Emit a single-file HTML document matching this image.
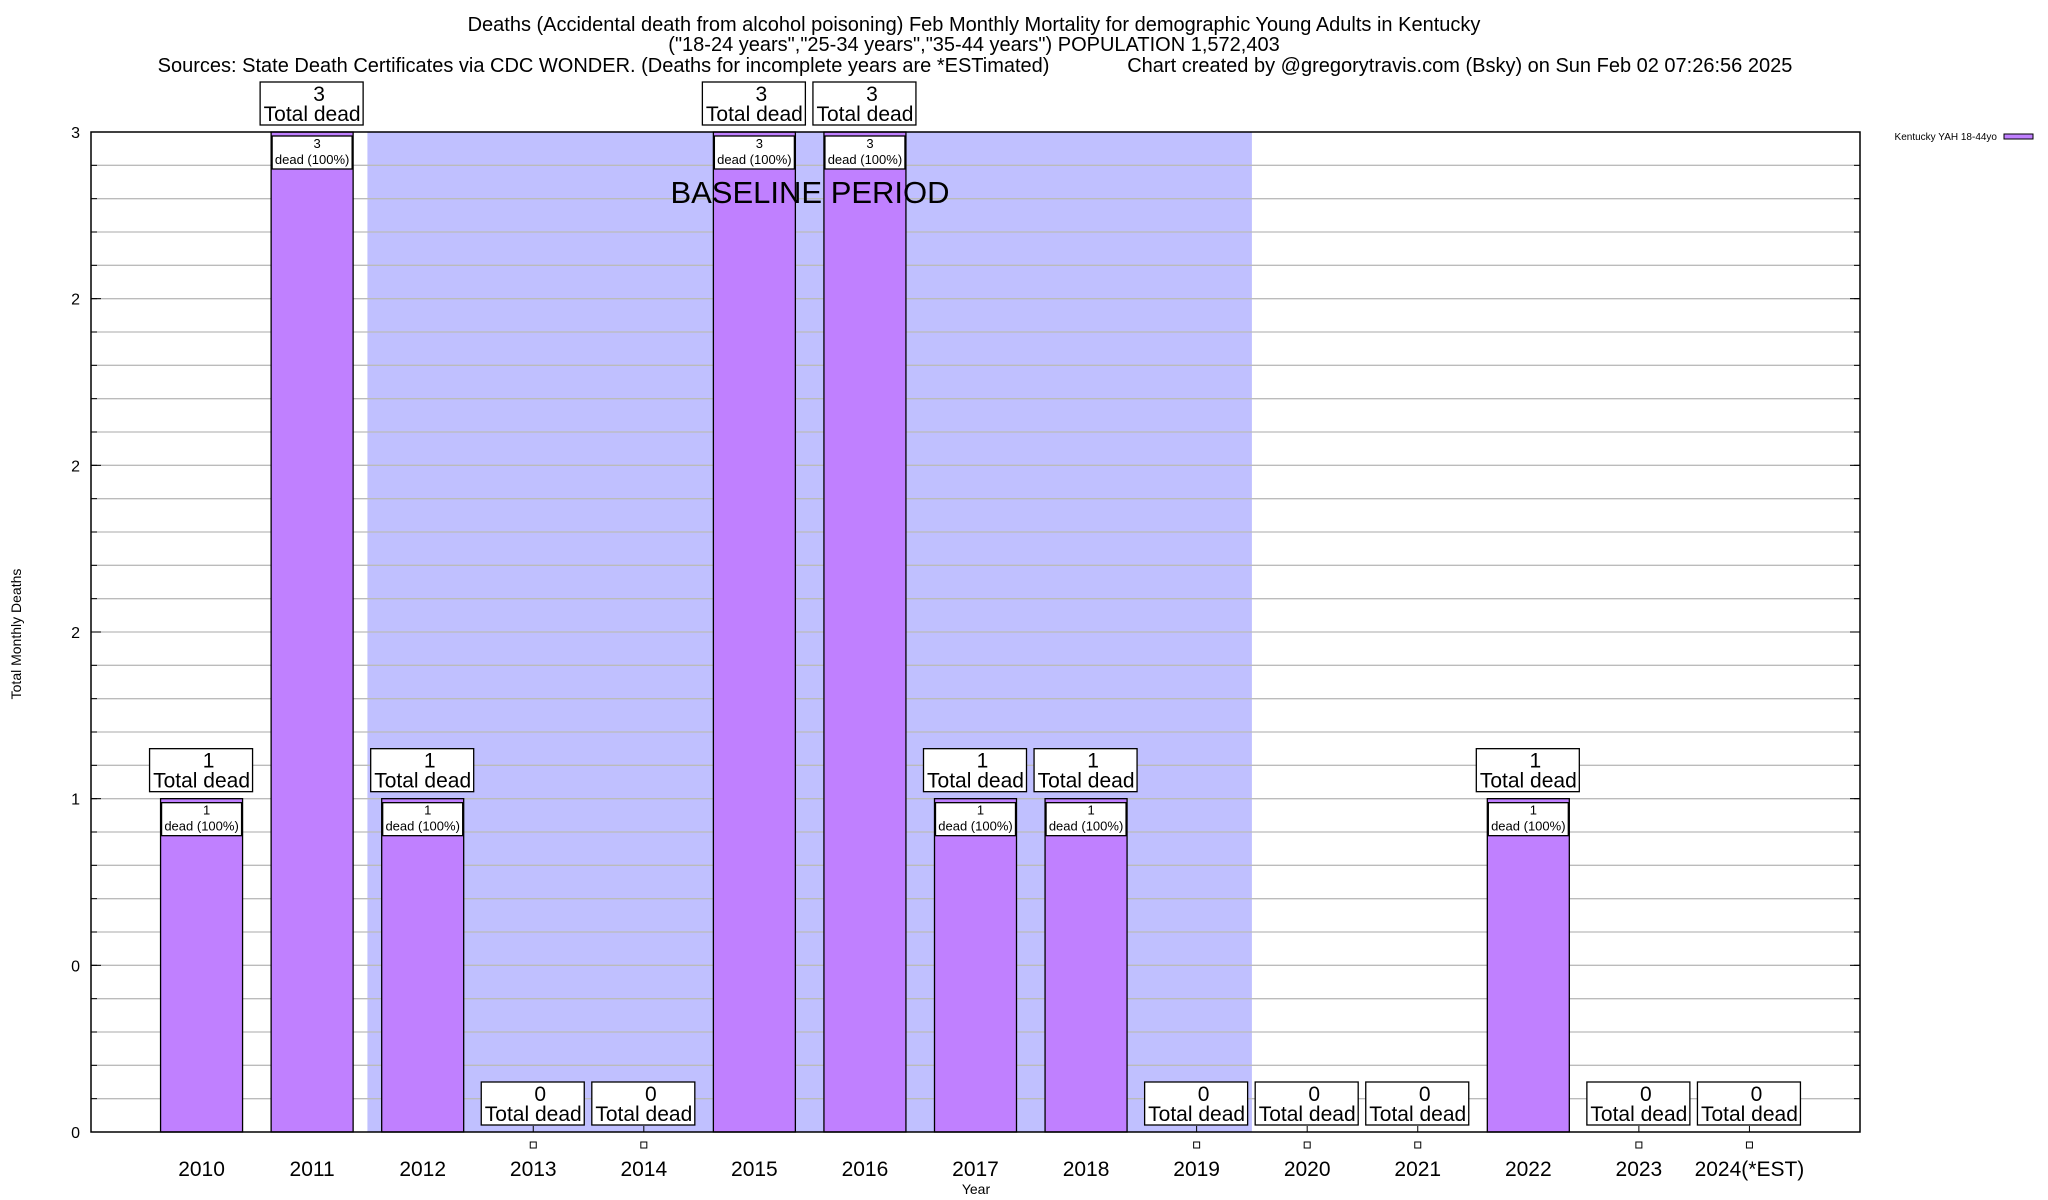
<!DOCTYPE html>
<html><head><meta charset="utf-8"><style>
body{margin:0;background:#fff;}
svg{display:block;font-family:"Liberation Sans",Arial,sans-serif;}
</style></head><body>
<svg id="chart" width="2048" height="1200" viewBox="0 0 2048 1200" xmlns="http://www.w3.org/2000/svg">
<rect width="2048" height="1200" fill="#fff"/>
<g font-size="20" text-anchor="middle">
<text x="974" y="31">Deaths (Accidental death from alcohol poisoning) Feb Monthly Mortality for demographic Young Adults in Kentucky</text>
<text x="974" y="51">("18-24 years","25-34 years","35-44 years") POPULATION 1,572,403</text>
<text x="975" y="72" xml:space="preserve">Sources: State Death Certificates via CDC WONDER. (Deaths for incomplete years are *ESTimated)              Chart created by @gregorytravis.com (Bsky) on Sun Feb 02 07:26:56 2025</text>
</g>
<g id="grid"></g>
<g id="marks"></g>
<g id="axes"></g>
<text x="0" y="0" font-size="14" text-anchor="middle" transform="translate(21,634) rotate(-90)">Total Monthly Deaths</text>
<text x="976" y="1194" font-size="14" text-anchor="middle">Year</text>
<g>
<text x="1997" y="140" font-size="10" text-anchor="end">Kentucky YAH 18-44yo</text>
<rect x="2004" y="134" width="29" height="5" fill="#c080ff" stroke="#000" stroke-width="1"/>
</g>
</svg>
<script>
const categories=["2010","2011","2012","2013","2014","2015","2016","2017","2018","2019","2020","2021","2022","2023","2024(*EST)"];
const deaths=[1,3,1,0,0,3,3,1,1,0,0,0,1,0,0];
const yTicks=[0,0.5,1,1.5,2,2.5,3];
const yTickLabels=["0","0","1","2","2","2","3"];
const baselineStart=1.5, baselineEnd=9.5;

const L=91,R=1860,T=132,B=1132;
const NS="http://www.w3.org/2000/svg";
const xs=i=>L+(i+1)*(R-L)/(categories.length+1);
const xv=v=>L+(v+1)*(R-L)/(categories.length+1);
const ys=v=>B-(v/3)*(B-T);
const svg=document.getElementById('chart');
function mk(parent,tag,attrs,text){const e=document.createElementNS(NS,tag);for(const k in attrs)e.setAttribute(k,attrs[k]);if(text!==undefined)e.textContent=text;parent.appendChild(e);return e;}
const grid=document.getElementById('grid'),marks=document.getElementById('marks'),axes=document.getElementById('axes');

let band=mk(grid,'rect',{x:xv(baselineStart),y:T,width:xv(baselineEnd)-xv(baselineStart),height:B-T,fill:'#c0c0ff'});


for(let k=1;k<30;k++){const y=ys(k/10);
 const g=mk(grid,'line',{x1:L,x2:R,y1:y,y2:y,stroke:'#bbb','stroke-width':1.3});
 
 
 mk(axes,'line',{x1:L,x2:L+6,y1:y,y2:y,stroke:'#000'});
 mk(axes,'line',{x1:R-6,x2:R,y1:y,y2:y,stroke:'#000'});
}

const bw=82;
categories.forEach((c,i)=>{
 const cx=xs(i),v=deaths[i],top=ys(v);
 if(v>0){
  const r=mk(marks,'rect',{x:cx-bw/2,y:top,width:bw,height:B-top,fill:'#c080ff',stroke:'#000','stroke-width':1.3});
  
  
  const ib=mk(marks,'rect',{x:cx-40,y:top+4,width:80,height:33,fill:'#fff',stroke:'#000','stroke-width':1.3});
  
  
  mk(marks,'text',{x:cx+5,y:top+16,'font-size':13,'text-anchor':'middle'},String(v));
  mk(marks,'text',{x:cx,y:top+32,'font-size':13,'text-anchor':'middle'},'dead (100%)');
 } else {
  mk(marks,'rect',{x:cx-3,y:1142,width:6,height:6,fill:'none',stroke:'#000','stroke-width':1});
  mk(axes,'line',{x1:cx,x2:cx,y1:B-6,y2:B,stroke:'#000'});
 }
 const by=top-7-43;
 const tb=mk(marks,'rect',{x:cx-52,y:by,width:103,height:43,fill:'#fff',stroke:'#000','stroke-width':1.3});
 
 
 mk(marks,'text',{x:cx+7,y:by+19,'font-size':21,'text-anchor':'middle'},String(v));
 mk(marks,'text',{x:cx,y:by+39,'font-size':21,'text-anchor':'middle'},'Total dead');
 const xl=mk(axes,'text',{x:cx,y:1176,'font-size':21,'text-anchor':'middle'},c);
 
 
});
let bl=mk(marks,'text',{x:810,y:203,'font-size':31,'text-anchor':'middle'},'BASELINE PERIOD');


yTicks.forEach((t,i)=>{const y=ys(t);
 mk(axes,'line',{x1:L,x2:L+10,y1:y,y2:y,stroke:'#000'});
 mk(axes,'line',{x1:R-10,x2:R,y1:y,y2:y,stroke:'#000'});
 const tl=mk(axes,'text',{x:80,y:y+6,'font-size':16,'text-anchor':'end'},yTickLabels[i]);
 
 
});
const frame=mk(axes,'rect',{x:L,y:T,width:R-L,height:B-T,fill:'none',stroke:'#000','stroke-width':1.5});


</script>
</body></html>
